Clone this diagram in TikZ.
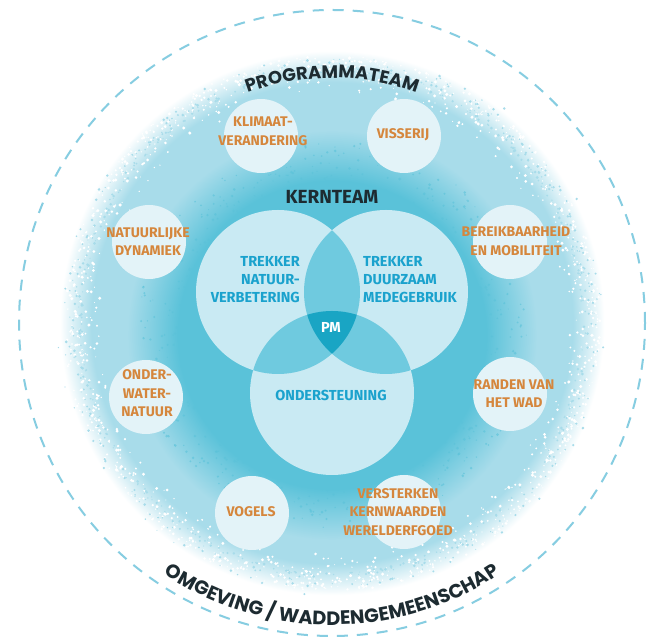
\documentclass[tikz,border=0pt]{standalone}
\usepackage{fontspec}
\setmainfont{Fira Sans}
\newfontfamily\arcfont{Poppins}
\usetikzlibrary{decorations.text}
\definecolor{lightb}{HTML}{A8DCEA}
\definecolor{darkb}{HTML}{5AC2D9}
\definecolor{vennlight}{HTML}{C9EAF3}
\definecolor{vennmid}{HTML}{6FCADF}
\definecolor{venndeep}{HTML}{19A5C4}
\definecolor{bubblec}{HTML}{E3F3F8}
\definecolor{dashc}{HTML}{86CDE1}
\definecolor{orangec}{HTML}{D5863C}
\definecolor{cyantext}{HTML}{1AA2CD}
\definecolor{darktext}{HTML}{1D2B31}
\pgfdeclareradialshading{outerdisk}{\pgfpoint{0bp}{0bp}}{color(0bp)=(lightb); color(21.5bp)=(lightb); color(24.3bp)=(white); color(25bp)=(white); color(50bp)=(white)}
\pgfdeclareradialshading{innerdark}{\pgfpoint{0bp}{0bp}}{color(0bp)=(darkb); color(18.8bp)=(darkb); color(25bp)=(lightb); color(50bp)=(lightb)}
\begin{document}
\begin{tikzpicture}[x=1pt,y=1pt,
  bubble/.style={circle,fill=bubblec,minimum size=74pt,inner sep=0pt},
  lbl/.style={font=\bfseries\fontsize{14}{18.5}\selectfont,text=orangec,align=center,inner sep=0pt},
  vlbl/.style={font=\bfseries\fontsize{14.5}{18}\selectfont,text=cyantext,inner sep=0pt}]
\useasboundingbox (0,0) rectangle (648,639);
\fill[white] (0,0) rectangle (648,639);
\coordinate (C) at (332,316);
\coordinate (D) at (332,304);
\coordinate (VL) at (278,347);
\coordinate (VR) at (386,347);
\coordinate (VB) at (332,246);
% outer textured disk
\shade[shading=outerdisk] (C) circle (280);
\pgfmathsetseed{11}
\foreach \i in {1,...,1300}{
  \pgfmathsetmacro\ang{360*rnd}
  \pgfmathsetmacro\rr{230+38*sqrt(rnd)}
  \pgfmathsetmacro\dr{0.5+1.2*rnd}
  \fill[white] ([shift={(\ang:\rr)}]C) circle (\dr);
}
\foreach \i in {1,...,700}{
  \pgfmathsetmacro\ang{360*rnd}
  \pgfmathsetmacro\rr{250+26*rnd*rnd}
  \pgfmathsetmacro\dr{0.5+1.0*rnd}
  \fill[lightb] ([shift={(\ang:\rr)}]C) circle (\dr);
}
% inner darker zone
\shade[shading=innerdark] (D) circle (205);
\foreach \i in {1,...,500}{
  \pgfmathsetmacro\ang{360*rnd}
  \pgfmathsetmacro\rr{150+45*rnd}
  \pgfmathsetmacro\dr{0.5+1.0*rnd}
  \fill[darkb,opacity=0.6] ([shift={(\ang:\rr)}]D) circle (\dr);
}
% dashed outer ring
\draw[dashc,line width=2pt,dash pattern=on 11pt off 9pt] (C) circle (313);
% Venn diagram
\fill[vennlight] (VL) circle (82);
\fill[vennlight] (VR) circle (82);
\fill[vennlight] (VB) circle (82);
\begin{scope}
  \clip (VL) circle (82);
  \fill[vennmid] (VR) circle (82);
  \fill[vennmid] (VB) circle (82);
\end{scope}
\begin{scope}
  \clip (VR) circle (82);
  \fill[vennmid] (VB) circle (82);
\end{scope}
\begin{scope}
  \clip (VL) circle (82);
  \clip (VR) circle (82);
  \fill[venndeep] (VB) circle (82);
\end{scope}
% bubbles
\node[bubble] (bkl) at (261,503) {};
\node[bubble] (bvi) at (404,503) {};
\node[bubble] (bna) at (149,397) {};
\node[bubble] (bbe) at (510,397) {};
\node[bubble] (bon) at (146,242) {};
\node[bubble] (bra) at (510,245) {};
\node[bubble] (bvo) at (252,126) {};
\node[bubble] (bve) at (404,127) {};
% labels
\node[lbl] (tkl) at (263,507.5) {KLIMAAT-\\VERANDERING};
\node[lbl] (tvi) at (403,504) {VISSERIJ};
\node[lbl] (tna) at (148,397.5) {NATUURLIJKE\\DYNAMIEK};
\node[lbl] (tbe) at (516,397.5) {BEREIKBAARHEID\\EN MOBILITEIT};
\node[lbl] (ton) at (147,245.5) {ONDER-\\WATER-\\NATUUR};
\node[lbl] (tra) at (514,245.5) {RANDEN VAN\\HET WAD};
\node[lbl] (tvo) at (251,127) {VOGELS};
\node[lbl] (tve) at (398,127) {VERSTERKEN\\KERNWAARDEN\\WERELDERFGOED};
\node[font=\bfseries\fontsize{19}{19}\selectfont,text=darktext,inner sep=0pt] (kern) at (332,442) {KERNTEAM};
\node[vlbl,align=right,anchor=east] (tnat) at (300,359) {TREKKER\\NATUUR-\\VERBETERING};
\node[vlbl,align=left,anchor=west] (tduu) at (363,359) {TREKKER\\DUURZAAM\\MEDEGEBRUIK};
\node[vlbl,text=white] (pm) at (331,312) {PM};
\node[vlbl] (ond) at (331,244) {ONDERSTEUNING};
% arc texts
\path[decorate,decoration={text along path,text color=darktext,
  text={|\arcfont\bfseries\fontsize{18}{18}\selectfont|PROGRAMMATEAM},text align=center}]
  ([shift={(140:245)}]C) arc[start angle=140,end angle=40,radius=245];
\path[decorate,decoration={text along path,text color=darktext,
  text={|\arcfont\bfseries\fontsize{19.3}{19.3}\selectfont|OMGEVING / WADDENGEMEENSCHAP},text align=center}]
  ([shift={(212:302)}]C) arc[start angle=212,end angle=328,radius=302];
\end{tikzpicture}
\end{document}
